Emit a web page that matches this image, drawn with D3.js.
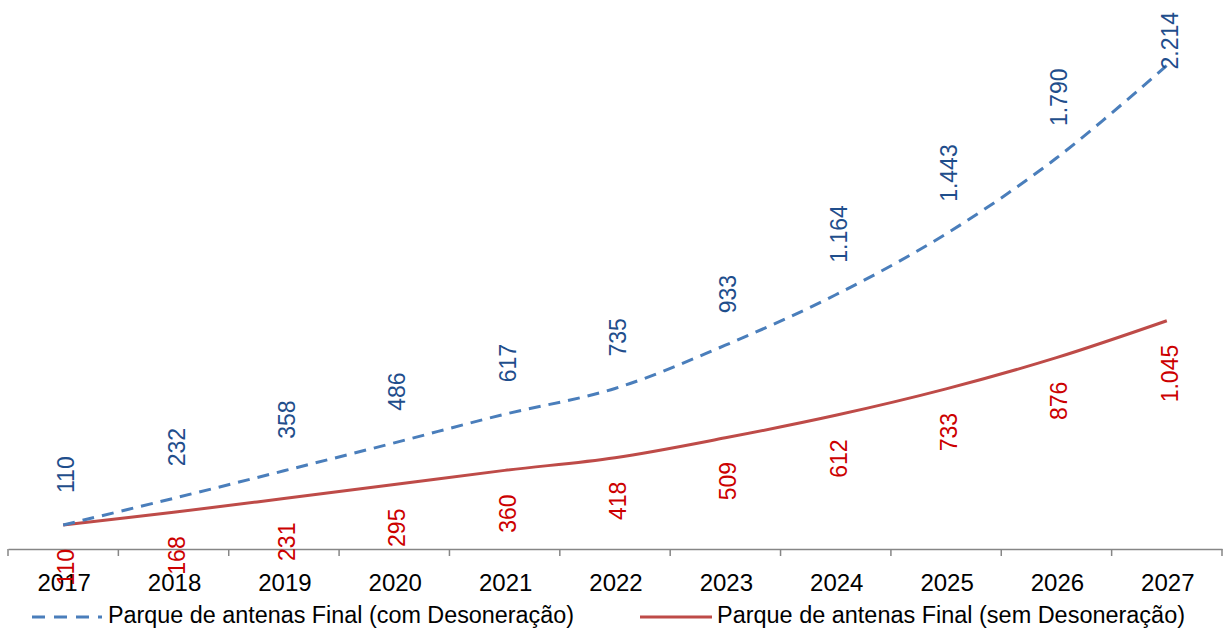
<!DOCTYPE html>
<html>
<head>
<meta charset="utf-8">
<script src="https://cdn.jsdelivr.net/npm/d3@7"></script>
<style>
  body { margin: 0; background: #fff; }
  text { font-family: "Liberation Sans", Arial, sans-serif; }
</style>
</head>
<body>
<svg width="1227" height="632"></svg>
<script>
const width = 1227;
const height = 632;

const years = ["2017", "2018", "2019", "2020", "2021", "2022", "2023", "2024", "2025", "2026", "2027"];
const comDesoneracao = [110, 232, 358, 486, 617, 735, 933, 1164, 1443, 1790, 2214];
const semDesoneracao = [110, 168, 231, 295, 360, 418, 509, 612, 733, 876, 1045];
const seriesNames = ["Parque de antenas Final (com Desoneração)", "Parque de antenas Final (sem Desoneração)"];

const fmt = v => d3.format(",")(v).replace(/,/g, ".");

const svg = d3.select("svg");

const x = d3.scaleBand().domain(years).range([8, 1222]);
const y = d3.scaleLinear().domain([0, 2500]).range([549, 3]);
const cx = d => x(d) + x.bandwidth() / 2;

// axis
const axis = svg.append("g")
  .attr("transform", "translate(0,549)")
  .call(d3.axisBottom(x).tickSize(0).tickPadding(0).tickFormat(""));
axis.select(".domain").attr("stroke", "#868686").attr("stroke-width", 1.5);

svg.append("g").selectAll("line")
  .data(years.concat(["end"]))
  .join("line")
  .attr("x1", (d, i) => x(years[0]) + i * x.bandwidth())
  .attr("x2", (d, i) => x(years[0]) + i * x.bandwidth())
  .attr("y1", 549).attr("y2", 556)
  .attr("stroke", "#868686").attr("stroke-width", 1.5);

svg.append("g").selectAll("text")
  .data(years)
  .join("text")
  .attr("x", d => cx(d) + 1)
  .attr("y", 591)
  .attr("text-anchor", "middle")
  .attr("font-size", 24)
  .attr("fill", "#000")
  .text(d => d);

const line = d3.line()
  .x((d, i) => cx(years[i]))
  .y(d => y(d))
  .curve(d3.curveCatmullRom.alpha(0.5));

svg.append("path")
  .datum(semDesoneracao)
  .attr("d", line)
  .attr("fill", "none")
  .attr("stroke", "#be4b48")
  .attr("stroke-width", 3);

svg.append("path")
  .datum(comDesoneracao)
  .attr("d", line)
  .attr("fill", "none")
  .attr("stroke", "#4a7ebb")
  .attr("stroke-width", 3)
  .attr("stroke-dasharray", "12,8");

// data labels (rotated)
svg.append("g").selectAll("text")
  .data(comDesoneracao)
  .join("text")
  .attr("transform", (d, i) => {
    const w = fmt(d).length * 11.5;
    let b = y(d) - 32;
    if (b - w < 12) b = 12 + w;
    return `translate(${cx(years[i]) + 3},${b}) rotate(-90)`;
  })
  .attr("dominant-baseline", "central")
  .attr("font-size", 23)
  .attr("fill", "#1f4e8c")
  .text(d => fmt(d));

svg.append("g").selectAll("text")
  .data(semDesoneracao)
  .join("text")
  .attr("transform", (d, i) => {
    let b = y(d) + 24;
    if (b > 558) b = 558;
    return `translate(${cx(years[i]) + 3},${b}) rotate(-90)`;
  })
  .attr("text-anchor", "end")
  .attr("dominant-baseline", "central")
  .attr("font-size", 23)
  .attr("fill", "#cc0000")
  .text(d => fmt(d));

// legend
const legend = [
  { name: seriesNames[0], color: "#4a7ebb", dash: "13,9", x1: 32, x2: 102, tx: 108, w: 466 },
  { name: seriesNames[1], color: "#be4b48", dash: null, x1: 640, x2: 712, tx: 717, w: 468 }
];
const lg = svg.append("g").selectAll("g").data(legend).join("g");
lg.append("line")
  .attr("x1", d => d.x1).attr("x2", d => d.x2)
  .attr("y1", 617).attr("y2", 617)
  .attr("stroke", d => d.color)
  .attr("stroke-width", 3)
  .attr("stroke-dasharray", d => d.dash);
lg.append("text")
  .attr("x", d => d.tx)
  .attr("y", 623)
  .attr("font-size", 23)
  .attr("fill", "#000")
  .attr("textLength", d => d.w)
  .attr("lengthAdjust", "spacingAndGlyphs")
  .text(d => d.name);
</script>
</body>
</html>
